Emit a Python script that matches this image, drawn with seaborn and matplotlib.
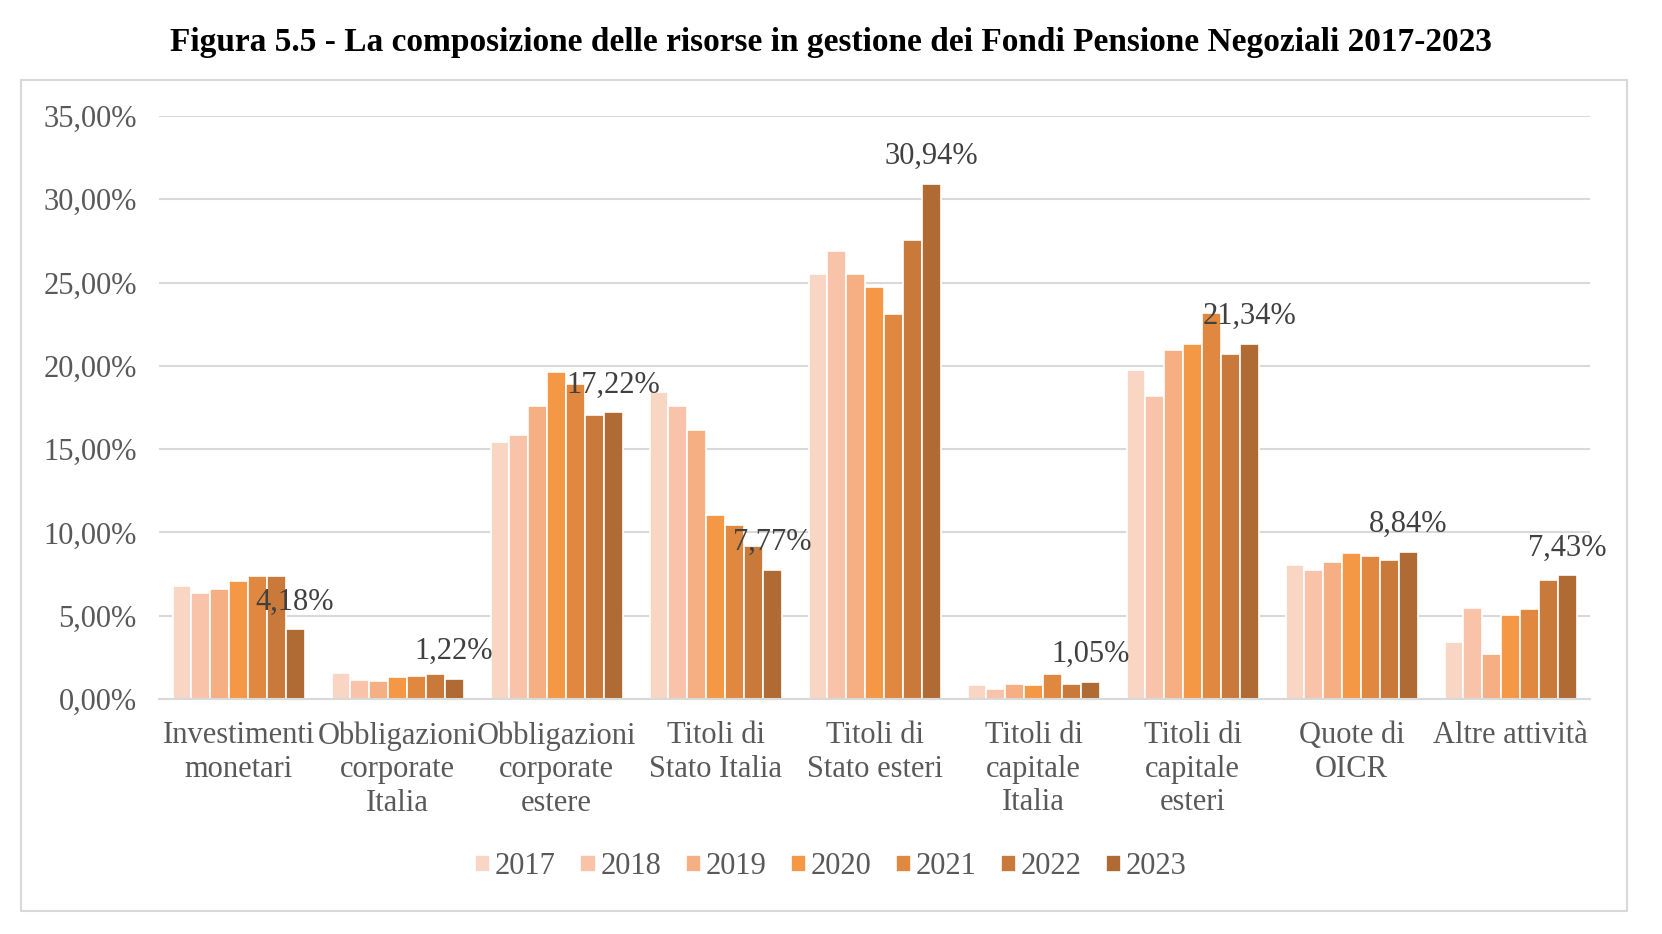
import pandas as pd
import matplotlib.pyplot as plt
import seaborn as sns
from matplotlib.patches import Rectangle

categories = [
    "Investimenti\nmonetari",
    "Obbligazioni\ncorporate\nItalia",
    "Obbligazioni\ncorporate\nestere",
    "Titoli di\nStato Italia",
    "Titoli di\nStato esteri",
    "Titoli di\ncapitale\nItalia",
    "Titoli di\ncapitale\nesteri",
    "Quote di\nOICR",
    "Altre attività",
]
years = ["2017", "2018", "2019", "2020", "2021", "2022", "2023"]

v2017 = [6.80, 1.54, 15.44, 18.45, 25.52, 0.86, 19.78, 8.02, 3.42]
v2018 = [6.36, 1.14, 15.82, 17.61, 26.87, 0.62, 18.20, 7.76, 5.44]
v2019 = [6.62, 1.10, 17.60, 16.17, 25.52, 0.92, 20.98, 8.22, 2.72]
v2020 = [7.10, 1.34, 19.66, 11.06, 24.76, 0.82, 21.32, 8.74, 5.02]
v2021 = [7.38, 1.38, 18.92, 10.44, 23.10, 1.50, 23.20, 8.60, 5.40]
v2022 = [7.38, 1.50, 17.02, 9.17, 27.58, 0.92, 20.70, 8.36, 7.12]
v2023 = [4.18, 1.22, 17.22, 7.77, 30.94, 1.05, 21.34, 8.84, 7.43]

colors = ["#F9D5C4", "#F8C3A8", "#F6AF82", "#F59846", "#E0883F", "#C97A3A", "#B06A33"]

rows = []
for year, vals in zip(years, [v2017, v2018, v2019, v2020, v2021, v2022, v2023]):
    for cat, v in zip(categories, vals):
        rows.append({"categoria": cat, "anno": year, "valore": v})
df = pd.DataFrame(rows)

sns.set_style("white")
plt.rcParams['font.family'] = ['Liberation Serif', 'DejaVu Serif']

fig = plt.figure(figsize=(16.62, 9.34), dpi=100)
ax = fig.add_axes([0.0957, 0.2516, 0.861, 0.6242])

sns.barplot(
    data=df, x="categoria", y="valore", hue="anno",
    palette=colors, width=0.83, edgecolor="white", linewidth=1.2,
    saturation=1, ax=ax, legend=True
)

ax.set_ylim(0, 35)
ax.set_xlim(-0.5, len(categories) - 0.5)
ax.set_yticks(range(0, 36, 5))
ax.set_yticklabels([f"{t},00%" for t in range(0, 36, 5)], fontsize=22, color="#595959")
ax.tick_params(axis="x", labelsize=22, labelcolor="#595959", length=0, pad=16)
ax.tick_params(axis="y", length=0, pad=16)
for lab in ax.get_xticklabels():
    lab.set_linespacing(1.2)
ax.set_xlabel("")
ax.set_ylabel("")
ax.yaxis.grid(True, color="#D9D9D9", linewidth=1.5)
ax.set_axisbelow(True)
for s in ["top", "right", "left"]:
    ax.spines[s].set_visible(False)
ax.spines["bottom"].set_color("#D9D9D9")
ax.spines["bottom"].set_linewidth(1.5)

# etichette solo sulla serie 2023
last = ax.containers[-1]
for bar, v in zip(last, v2023):
    ax.annotate(f"{v:.2f}%".replace(".", ","),
                (bar.get_x() + bar.get_width() / 2, bar.get_height()),
                xytext=(0, 9), textcoords="offset points",
                ha="center", va="bottom", fontsize=22, color="#404040")

handles, labels = ax.get_legend_handles_labels()
ax.legend(handles, labels, loc="center", bbox_to_anchor=(0.5, (934 - 867) / 934),
          bbox_transform=fig.transFigure, ncol=7, frameon=False, fontsize=22,
          handlelength=0.5, handleheight=0.5, handletextpad=0.15, columnspacing=0.8,
          labelcolor="#595959")

fig.text(0.5, (934 - 42) / 934, "Figura 5.5 - La composizione delle risorse in gestione dei Fondi Pensione Negoziali 2017-2023",
         ha="center", va="center", fontsize=24, fontweight="bold", color="black")

fig.patches.append(Rectangle((21 / 1662, (934 - 911) / 934), 1606 / 1662, 831 / 934,
                             transform=fig.transFigure, fill=False,
                             edgecolor="#D9D9D9", linewidth=1.5))

fig.savefig("out.png", dpi=100, facecolor="white")
